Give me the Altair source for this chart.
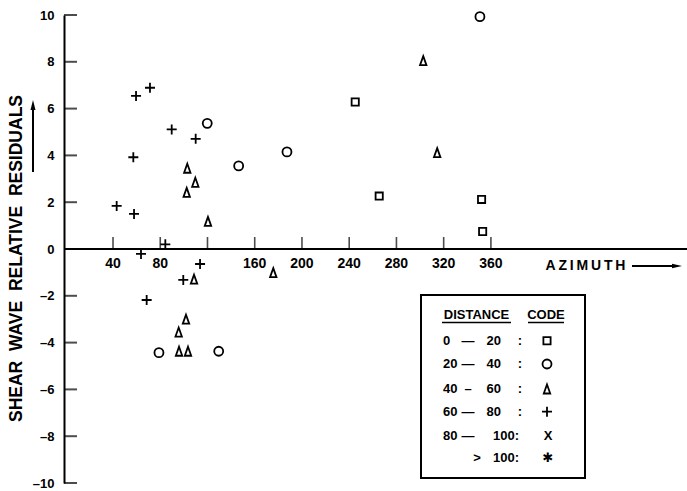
import altair as alt
import pandas as pd

# ---------------- data ----------------
square_az = [245.1, 265.4, 352.1, 353.0]
square_res = [6.28, 2.26, 2.12, 0.75]
circle_az = [119.8, 146.4, 187.3, 350.7, 78.9, 129.5]
circle_res = [5.37, 3.55, 4.15, 9.93, -4.43, -4.37]
tri_az = [102.9, 109.7, 102.4, 120.4, 108.6, 175.7, 101.8, 95.6, 95.9, 103.5, 302.7, 314.5]
tri_res = [3.45, 2.85, 2.42, 1.18, -1.29, -1.01, -3.00, -3.55, -4.37, -4.37, 8.05, 4.12]
plus_az = [71.3, 59.5, 89.7, 110.0, 57.2, 43.1, 57.8, 84.3, 63.7, 113.7, 99.5, 68.5]
plus_res = [6.89, 6.54, 5.11, 4.71, 3.92, 1.84, 1.50, 0.20, -0.21, -0.64, -1.32, -2.18]

x_ticks = [40, 80, 120, 160, 200, 240, 280, 320, 360]
x_tick_labels = ["40", "80", "", "160", "200", "240", "280", "320", "360"]
y_ticks = [-10, -8, -6, -4, -2, 0, 2, 4, 6, 8, 10]

codes = ["0-20", "20-40", "40-60", "60-80"]
legend_lo = ["0", "20", "40", "60", "80", ""]
legend_dash = ["\u2014", "\u2014", "\u2013", "\u2014", "\u2014", ">"]
legend_hi = ["20", "40", "60", "80", "100", "100"]
legend_sym = ["0-20", "20-40", "40-60", "60-80", "X", "\u2731"]

# ---------------- styling ----------------
FONT = "Liberation Sans"
W, H = 620, 468
LEFT, TOP = 64, 15
XS = alt.Scale(domain=[-1.5, 523.5], nice=False, zero=False)
YS = alt.Scale(domain=[-10, 10], nice=False, zero=False)
YAXIS = alt.Axis(
    values=y_ticks, ticks=False, domain=True, domainWidth=2, domainColor="black",
    labelFont=FONT, labelFontSize=13, labelFontWeight="bold", labelColor="black",
    labelPadding=10, grid=False, title=None, labelOverlap=False, labelFlush=False,
    labelExpr="datum.value < 0 ? '\u2013' + abs(datum.value) : datum.label")

SQUARE = "M-0.72,-0.72L0.72,-0.72L0.72,0.72L-0.72,0.72Z"
CIRCLE = "M0.9,0A0.9,0.9,0,1,1,-0.9,0A0.9,0.9,0,1,1,0.9,0Z"
TRI = "M0,-0.9L0.64,0.9L-0.64,0.9Z"
PLUS = "M-1,0L1,0M0,-1L0,1"
paths = [SQUARE, CIRCLE, TRI, PLUS]
SHAPE = dict(zip(codes, paths))

rows = []
for a, r in zip(square_az, square_res):
    rows.append({"az": a, "res": r, "code": codes[0]})
for a, r in zip(circle_az, circle_res):
    rows.append({"az": a, "res": r, "code": codes[1]})
for a, r in zip(tri_az, tri_res):
    rows.append({"az": a, "res": r, "code": codes[2]})
for a, r in zip(plus_az, plus_res):
    rows.append({"az": a, "res": r, "code": codes[3]})
df = pd.DataFrame(rows)
df_xt = pd.DataFrame({"az": x_ticks, "lab": x_tick_labels})
df_yt = pd.DataFrame({"v": y_ticks})
ONE = pd.DataFrame({"_": [0]})


def px(ax):
    return ax - LEFT


def py(ay):
    return ay - TOP


def text_at(t, ax, ay, size=13, align="left", angle=0, font=FONT):
    return alt.Chart(ONE).mark_text(
        text=t, fontSize=size, font=font, fontWeight="bold", align=align,
        baseline="middle", angle=angle, color="black"
    ).encode(x=alt.value(px(ax)), y=alt.value(py(ay)))


def rule_at(ax1, ay1, ax2, ay2, w=2):
    return alt.Chart(ONE).mark_rule(strokeWidth=w, color="black").encode(
        x=alt.value(px(ax1)), x2=alt.value(px(ax2)),
        y=alt.value(py(ay1)), y2=alt.value(py(ay2)))


def head_at(path, ax, ay, size=100):
    return alt.Chart(ONE).mark_point(shape=path, filled=True, size=size, color="black",
                                     opacity=1, strokeWidth=0.5).encode(
        x=alt.value(px(ax)), y=alt.value(py(ay)))


points = alt.Chart(df).mark_point(filled=False, size=100, strokeWidth=1.8,
                                  color="black", opacity=1).encode(
    x=alt.X("az:Q", scale=XS, axis=None),
    y=alt.Y("res:Q", scale=YS, axis=YAXIS),
    shape=alt.Shape("code:N", scale=alt.Scale(domain=codes, range=paths), legend=None),
)

y_tick_marks = alt.Chart(df_yt).mark_tick(orient="horizontal", size=13, thickness=2,
                                          color="black").encode(
    x=alt.value(6.5), y=alt.Y("v:Q", scale=YS, axis=YAXIS))

x_axis_line = alt.Chart(ONE).mark_rule(strokeWidth=2, color="black").encode(
    y=alt.YDatum(0, scale=YS, axis=YAXIS), x=alt.value(0), x2=alt.value(W + 3))

x_tick_marks = alt.Chart(df_xt).mark_tick(orient="vertical", size=12, thickness=1.6,
                                          yOffset=-6, color="black").encode(
    x=alt.X("az:Q", scale=XS, axis=None), y=alt.YDatum(0, scale=YS, axis=YAXIS))

x_tick_text = alt.Chart(df_xt).mark_text(fontSize=14, font=FONT, fontWeight="bold",
                                         dy=15, baseline="middle", color="black").encode(
    x=alt.X("az:Q", scale=XS, axis=None), y=alt.YDatum(0, scale=YS, axis=YAXIS),
    text="lab:N")

layers = [points, y_tick_marks, x_axis_line, x_tick_marks, x_tick_text]

# axis titles with arrows
gap = "\u00a0" * 2
layers.append(text_at(gap.join(["SHEAR", "WAVE", "RELATIVE", "RESIDUALS"]), 17, 258.5,
                      size=17.5, align="center", angle=270))
layers.append(rule_at(33, 172, 33, 108, 2))
layers.append(head_at("M0,-1L0.5,1L-0.5,1Z", 33, 105))
layers.append(text_at("\u2009".join("AZIMUTH"), 585.5, 266, size=14, align="center"))
layers.append(rule_at(632, 266, 675, 266, 2))
layers.append(head_at("M1,0L-1,0.45L-1,-0.45Z", 677, 266))

# legend box
layers.append(alt.Chart(ONE).mark_rect(fill="white", stroke="black", strokeWidth=2).encode(
    x=alt.value(px(421)), x2=alt.value(px(585)), y=alt.value(py(295)), y2=alt.value(py(478))))
layers.append(text_at("DISTANCE", 476.5, 314.5, size=13, align="center"))
layers.append(text_at("CODE", 546, 314.5, size=13, align="center"))
layers.append(rule_at(442, 322.5, 511, 322.5, 1.5))
layers.append(rule_at(528, 322.5, 564, 322.5, 1.5))

row_y = [340.7, 364.0, 389.0, 411.7, 435.7, 458.3]
for i in range(len(legend_lo)):
    y = row_y[i]
    if legend_lo[i]:
        layers.append(text_at(legend_lo[i], 443, y))
    if legend_dash[i] == ">":
        layers.append(text_at(">", 477, y, align="center"))
    else:
        layers.append(text_at(legend_dash[i], 468, y, align="center"))
    if len(legend_hi[i]) == 3:
        layers.append(text_at(legend_hi[i] + ":", 519, y, align="right"))
    else:
        layers.append(text_at(legend_hi[i], 501, y, align="right"))
        layers.append(text_at(":", 520, y, align="center"))
    s = legend_sym[i]
    if s in SHAPE:
        layers.append(alt.Chart(ONE).mark_point(shape=SHAPE[s], filled=False, size=100,
                                                strokeWidth=1.8, color="black", opacity=1).encode(
            x=alt.value(px(547)), y=alt.value(py(y))))
    else:
        layers.append(text_at(s, 548, y, size=13, align="center",
                              font=FONT if s == "X" else "DejaVu Sans"))

chart = alt.layer(*layers).properties(
    width=W, height=H,
    padding={"left": LEFT, "top": TOP, "right": 3, "bottom": 8},
    autosize=alt.AutoSizeParams(type="none"),
    background="white",
).configure_view(stroke=None)

chart.save("out.html", embed_options={"renderer": "svg", "actions": False})
